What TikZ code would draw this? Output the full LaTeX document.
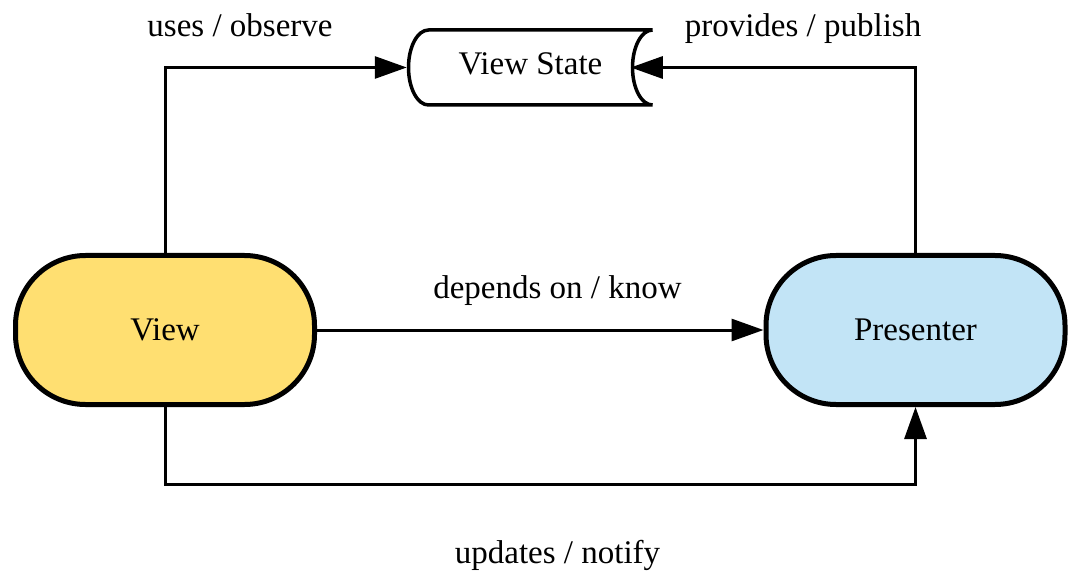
\documentclass[tikz,border=0pt]{standalone}
\usepackage{fontspec}
\setmainfont{Liberation Serif}
\usetikzlibrary{arrows.meta,calc}
\definecolor{viewyellow}{HTML}{FFDF71}
\definecolor{presblue}{HTML}{C2E4F6}
\begin{document}
\begin{tikzpicture}[x=1pt,y=1pt,
  font=\fontsize{33}{39}\selectfont,
  term/.style={draw, line width=5pt, rounded corners=70pt, minimum width=299pt, minimum height=149pt, inner sep=0pt},
  conn/.style={line width=3pt, -{Triangle[length=32pt,width=22pt]}},
  lbl/.style={anchor=base, inner sep=0pt}]
\useasboundingbox (0,0) rectangle (1086,587);
\node[term, fill=viewyellow] (view) at (165,257) {View};
\node[term, fill=presblue] (pres) at (915.5,257) {Presenter};
\node[minimum width=244pt, minimum height=75pt, inner sep=0pt, outer sep=1.75pt, text height=22pt, text depth=7pt] (vs) at (530.5,519.5) {View State};
\draw[line width=3.5pt] ([shift={(122,37.5)}]vs.center) -- ([shift={(-102,37.5)}]vs.center)
  arc[start angle=90,end angle=270,x radius=20,y radius=37.5]
  -- ([shift={(122,-37.5)}]vs.center)
  arc[start angle=-90,end angle=-270,x radius=20,y radius=37.5];
\coordinate (vsr) at ([xshift=-23.5pt]vs.east);
\draw[conn] (view.north) |- (vs.west);
\draw[conn] (pres.north) |- (vsr);
\draw[conn] (view.east) -- (pres.west);
\draw[conn] (view.south) -- ++(0,-77) -| (pres.south);
\node[lbl] (l1) at (240,550) {uses / observe};
\node[lbl] (l2) at (803,550) {provides / publish};
\node[lbl] (l3) at (557.5,289) {depends on / know};
\node[lbl] (l4) at (557.5,24) {updates / notify};
\end{tikzpicture}
\end{document}
